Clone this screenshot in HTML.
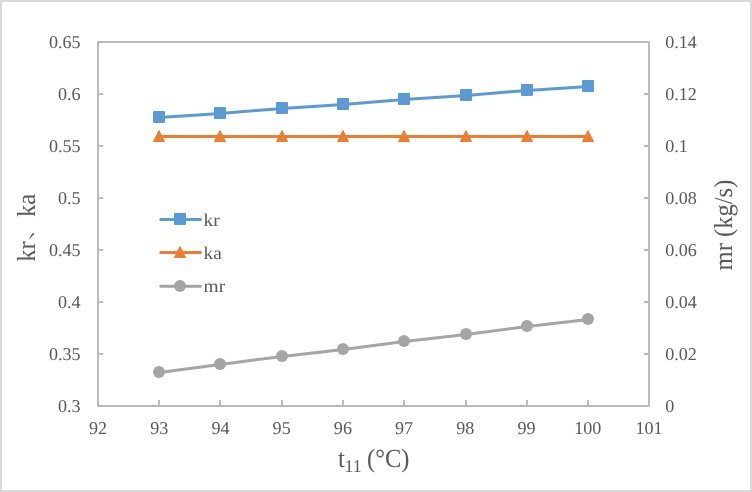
<!DOCTYPE html>
<html><head><meta charset="utf-8"><title>chart</title>
<style>
html,body{margin:0;padding:0;background:#fff;}
body{width:752px;height:492px;overflow:hidden;}
svg{display:block;font-family:"Liberation Serif",serif;}
text{fill:#595959;}
svg{will-change:transform;text-rendering:geometricPrecision;}
</style></head><body>
<svg width="752" height="492" viewBox="0 0 752 492">
<rect x="0" y="0" width="752" height="492" fill="#d9d9d9"/>
<rect x="2" y="2" width="748" height="488" fill="#ffffff"/>

<g fill="none" stroke="#bababa" stroke-width="2" stroke-linejoin="round">
<rect x="98.0" y="42.0" width="551.0" height="364.0"/>
</g>
<g stroke="#bababa" stroke-width="2">
<line x1="98.0" y1="42.0" x2="103.0" y2="42.0"/>
<line x1="649.0" y1="42.0" x2="644.0" y2="42.0"/>
<line x1="98.0" y1="94.0" x2="103.0" y2="94.0"/>
<line x1="649.0" y1="94.0" x2="644.0" y2="94.0"/>
<line x1="98.0" y1="146.0" x2="103.0" y2="146.0"/>
<line x1="649.0" y1="146.0" x2="644.0" y2="146.0"/>
<line x1="98.0" y1="198.0" x2="103.0" y2="198.0"/>
<line x1="649.0" y1="198.0" x2="644.0" y2="198.0"/>
<line x1="98.0" y1="250.0" x2="103.0" y2="250.0"/>
<line x1="649.0" y1="250.0" x2="644.0" y2="250.0"/>
<line x1="98.0" y1="302.0" x2="103.0" y2="302.0"/>
<line x1="649.0" y1="302.0" x2="644.0" y2="302.0"/>
<line x1="98.0" y1="354.0" x2="103.0" y2="354.0"/>
<line x1="649.0" y1="354.0" x2="644.0" y2="354.0"/>
<line x1="98.0" y1="406.0" x2="103.0" y2="406.0"/>
<line x1="649.0" y1="406.0" x2="644.0" y2="406.0"/>
<line x1="98.0" y1="406.0" x2="98.0" y2="400.0"/>
<line x1="159.0" y1="406.0" x2="159.0" y2="400.0"/>
<line x1="220.0" y1="406.0" x2="220.0" y2="400.0"/>
<line x1="282.0" y1="406.0" x2="282.0" y2="400.0"/>
<line x1="343.0" y1="406.0" x2="343.0" y2="400.0"/>
<line x1="404.0" y1="406.0" x2="404.0" y2="400.0"/>
<line x1="466.0" y1="406.0" x2="466.0" y2="400.0"/>
<line x1="527.0" y1="406.0" x2="527.0" y2="400.0"/>
<line x1="588.0" y1="406.0" x2="588.0" y2="400.0"/>
<line x1="649.0" y1="406.0" x2="649.0" y2="400.0"/>
</g>
<g class="t" font-size="17.33px">
<text transform="translate(80.60,47.75) scale(1.000,1.000)" font-size="18.10px" text-anchor="end">0.65</text>
<text transform="translate(665.20,47.75) scale(1.000,1.000)" font-size="18.10px" text-anchor="start">0.14</text>
<text transform="translate(80.60,99.75) scale(1.000,1.000)" font-size="18.10px" text-anchor="end">0.6</text>
<text transform="translate(665.20,99.75) scale(1.000,1.000)" font-size="18.10px" text-anchor="start">0.12</text>
<text transform="translate(80.60,151.75) scale(1.000,1.000)" font-size="18.10px" text-anchor="end">0.55</text>
<text transform="translate(665.20,151.75) scale(1.000,1.000)" font-size="18.10px" text-anchor="start">0.1</text>
<text transform="translate(80.60,203.75) scale(1.000,1.000)" font-size="18.10px" text-anchor="end">0.5</text>
<text transform="translate(665.20,203.75) scale(1.000,1.000)" font-size="18.10px" text-anchor="start">0.08</text>
<text transform="translate(80.60,255.75) scale(1.000,1.000)" font-size="18.10px" text-anchor="end">0.45</text>
<text transform="translate(665.20,255.75) scale(1.000,1.000)" font-size="18.10px" text-anchor="start">0.06</text>
<text transform="translate(80.60,307.75) scale(1.000,1.000)" font-size="18.10px" text-anchor="end">0.4</text>
<text transform="translate(665.20,307.75) scale(1.000,1.000)" font-size="18.10px" text-anchor="start">0.04</text>
<text transform="translate(80.60,359.75) scale(1.000,1.000)" font-size="18.10px" text-anchor="end">0.35</text>
<text transform="translate(665.20,359.75) scale(1.000,1.000)" font-size="18.10px" text-anchor="start">0.02</text>
<text transform="translate(80.60,411.75) scale(1.000,1.000)" font-size="18.10px" text-anchor="end">0.3</text>
<text transform="translate(665.20,411.75) scale(1.000,1.000)" font-size="18.10px" text-anchor="start">0</text>
<text transform="translate(98.00,434.00) scale(1.000,1.000)" font-size="18.10px" text-anchor="middle">92</text>
<text transform="translate(159.22,434.00) scale(1.000,1.000)" font-size="18.10px" text-anchor="middle">93</text>
<text transform="translate(220.44,434.00) scale(1.000,1.000)" font-size="18.10px" text-anchor="middle">94</text>
<text transform="translate(281.67,434.00) scale(1.000,1.000)" font-size="18.10px" text-anchor="middle">95</text>
<text transform="translate(342.89,434.00) scale(1.000,1.000)" font-size="18.10px" text-anchor="middle">96</text>
<text transform="translate(404.11,434.00) scale(1.000,1.000)" font-size="18.10px" text-anchor="middle">97</text>
<text transform="translate(465.33,434.00) scale(1.000,1.000)" font-size="18.10px" text-anchor="middle">98</text>
<text transform="translate(526.56,434.00) scale(1.000,1.000)" font-size="18.10px" text-anchor="middle">99</text>
<text transform="translate(587.78,434.00) scale(1.000,1.000)" font-size="18.10px" text-anchor="middle">100</text>
<text transform="translate(649.00,434.00) scale(1.000,1.000)" font-size="18.10px" text-anchor="middle">101</text>
</g>
<polyline points="159.2,117.4 220.2,113.4 282.2,108.4 343.2,104.4 404.2,99.4 466.2,95.4 527.2,90.4 588.2,86.4" fill="none" stroke="#5b9bd5" stroke-width="3" stroke-linecap="round" stroke-linejoin="round"/>
<rect x="154.00" y="112.00" width="10" height="10" fill="#5b9bd5" stroke="#5b9bd5" stroke-width="2" stroke-linejoin="round"/>
<rect x="215.00" y="108.00" width="10" height="10" fill="#5b9bd5" stroke="#5b9bd5" stroke-width="2" stroke-linejoin="round"/>
<rect x="277.00" y="103.00" width="10" height="10" fill="#5b9bd5" stroke="#5b9bd5" stroke-width="2" stroke-linejoin="round"/>
<rect x="338.00" y="99.00" width="10" height="10" fill="#5b9bd5" stroke="#5b9bd5" stroke-width="2" stroke-linejoin="round"/>
<rect x="399.00" y="94.00" width="10" height="10" fill="#5b9bd5" stroke="#5b9bd5" stroke-width="2" stroke-linejoin="round"/>
<rect x="461.00" y="90.00" width="10" height="10" fill="#5b9bd5" stroke="#5b9bd5" stroke-width="2" stroke-linejoin="round"/>
<rect x="522.00" y="85.00" width="10" height="10" fill="#5b9bd5" stroke="#5b9bd5" stroke-width="2" stroke-linejoin="round"/>
<rect x="583.00" y="81.00" width="10" height="10" fill="#5b9bd5" stroke="#5b9bd5" stroke-width="2" stroke-linejoin="round"/>
<polyline points="159.2,136.4 220.2,136.4 282.2,136.4 343.2,136.4 404.2,136.4 466.2,136.4 527.2,136.4 588.2,136.4" fill="none" stroke="#ed7d31" stroke-width="3" stroke-linecap="round" stroke-linejoin="round"/>
<path d="M159.00 130.60 L164.50 141.50 L153.50 141.50 Z" fill="#ed7d31" stroke="#ed7d31" stroke-width="1" stroke-linejoin="round"/>
<path d="M220.00 130.60 L225.50 141.50 L214.50 141.50 Z" fill="#ed7d31" stroke="#ed7d31" stroke-width="1" stroke-linejoin="round"/>
<path d="M282.00 130.60 L287.50 141.50 L276.50 141.50 Z" fill="#ed7d31" stroke="#ed7d31" stroke-width="1" stroke-linejoin="round"/>
<path d="M343.00 130.60 L348.50 141.50 L337.50 141.50 Z" fill="#ed7d31" stroke="#ed7d31" stroke-width="1" stroke-linejoin="round"/>
<path d="M404.00 130.60 L409.50 141.50 L398.50 141.50 Z" fill="#ed7d31" stroke="#ed7d31" stroke-width="1" stroke-linejoin="round"/>
<path d="M466.00 130.60 L471.50 141.50 L460.50 141.50 Z" fill="#ed7d31" stroke="#ed7d31" stroke-width="1" stroke-linejoin="round"/>
<path d="M527.00 130.60 L532.50 141.50 L521.50 141.50 Z" fill="#ed7d31" stroke="#ed7d31" stroke-width="1" stroke-linejoin="round"/>
<path d="M588.00 130.60 L593.50 141.50 L582.50 141.50 Z" fill="#ed7d31" stroke="#ed7d31" stroke-width="1" stroke-linejoin="round"/>
<polyline points="159.2,372.4 220.2,364.4 282.2,356.4 343.2,349.4 404.2,341.4 466.2,334.4 527.2,326.4 588.2,319.4" fill="none" stroke="#a5a5a5" stroke-width="3" stroke-linecap="round" stroke-linejoin="round"/>
<circle cx="159.00" cy="372.00" r="6" fill="#a5a5a5"/>
<circle cx="220.00" cy="364.00" r="6" fill="#a5a5a5"/>
<circle cx="282.00" cy="356.00" r="6" fill="#a5a5a5"/>
<circle cx="343.00" cy="349.00" r="6" fill="#a5a5a5"/>
<circle cx="404.00" cy="341.00" r="6" fill="#a5a5a5"/>
<circle cx="466.00" cy="334.00" r="6" fill="#a5a5a5"/>
<circle cx="527.00" cy="326.00" r="6" fill="#a5a5a5"/>
<circle cx="588.00" cy="319.00" r="6" fill="#a5a5a5"/>
<line x1="160.8" y1="219.4" x2="200.4" y2="219.4" stroke="#5b9bd5" stroke-width="3" stroke-linecap="round"/>
<rect x="175.00" y="214.00" width="10" height="10" fill="#5b9bd5" stroke="#5b9bd5" stroke-width="2" stroke-linejoin="round"/>
<text transform="translate(203.60,226.30) scale(1.070,1.000)" font-size="18.10px" text-anchor="start">kr</text>
<line x1="160.8" y1="252.4" x2="200.4" y2="252.4" stroke="#ed7d31" stroke-width="3" stroke-linecap="round"/>
<path d="M180.00 246.60 L185.50 257.50 L174.50 257.50 Z" fill="#ed7d31" stroke="#ed7d31" stroke-width="1" stroke-linejoin="round"/>
<text transform="translate(203.60,259.30) scale(1.070,1.000)" font-size="18.10px" text-anchor="start">ka</text>
<line x1="160.8" y1="286.3" x2="200.4" y2="286.3" stroke="#a5a5a5" stroke-width="3" stroke-linecap="round"/>
<circle cx="180.00" cy="286.00" r="6" fill="#a5a5a5"/>
<text transform="translate(203.60,292.30) scale(1.070,1.000)" font-size="18.10px" text-anchor="start">mr</text>
<text transform="translate(338.00,466.70) scale(1.000,1.060)" font-size="24.80px" text-anchor="start">t</text>
<text transform="translate(344.40,471.70) scale(1.000,1.000)" font-size="17.80px" text-anchor="start">11</text>
<text transform="translate(367.00,466.70) scale(1.000,1.070)" font-size="24.50px" text-anchor="start">(°C)</text>
<g transform="translate(34.8,261.7) rotate(-90)"><text x="0" y="0" font-size="24.6px" transform="scale(1,1.06)">kr</text><path d="M23.2 -5.6 Q26.6 -4.4 29.0 -1.6 Q28.6 -0.2 27.4 -0.6 Q25.6 -3.0 22.9 -5.0 Z" fill="#595959"/><text x="44.7" y="0" font-size="24.6px" transform="scale(1,1.06)">ka</text></g>
<g transform="translate(732.4,270.5) rotate(-90)"><text x="0" y="0" font-size="24.6px" transform="scale(1,1.06)">mr (kg/s)</text></g>
</svg></body></html>
